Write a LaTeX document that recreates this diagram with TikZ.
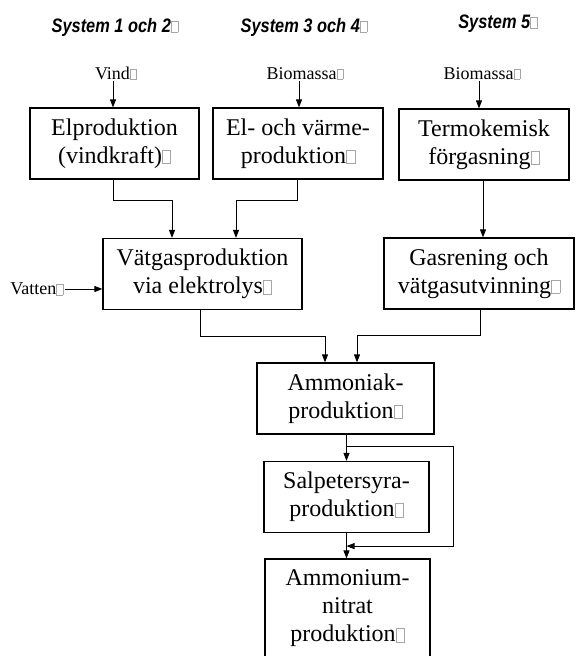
\documentclass[tikz,border=0pt]{standalone}
\usepackage{fontspec}
\setmainfont{Liberation Serif}
\newfontfamily\rubrikfont[FakeStretch=0.84]{Liberation Sans}
\usepackage{tikz}
\usetikzlibrary{arrows.meta}

% small grey box that follows each text
\newcommand{\mk}{{\color{black!35}\setlength{\fboxsep}{0pt}\setlength{\fboxrule}{0.5pt}\fbox{\rule{0pt}{0.55em}\rule{0.33em}{0pt}}}}

\tikzset{
  process/.style={draw, line width=1.2pt, align=center, font=\fontsize{24}{28}\selectfont, minimum height=71pt, inner sep=2pt},
  input/.style={font=\fontsize{18}{20}\selectfont, inner sep=1.5pt},
  rubrik/.style={font=\rubrikfont\fontsize{19.5}{21}\bfseries\itshape\selectfont, inner sep=0pt},
  flow/.style={line width=0.9pt, -{Triangle[length=8pt,width=6pt]}}
}

\begin{document}
\begin{tikzpicture}[x=1pt, y=-1pt]
  \clip (0,0) rectangle (576,656);

  % Headings
  \node[rubrik, anchor=base] (sys12) at (115,32) {System 1 och 2\mk};
  \node[rubrik, anchor=base] (sys34) at (304,32) {System 3 och 4\mk};
  \node[rubrik, anchor=base] (sys5) at (498,28) {System 5\mk};

  % Inputs
  \node[input, anchor=base] (vind) at (116,79) {Vind\mk};
  \node[input, anchor=base] (bio1) at (305,79) {Biomassa\mk};
  \node[input, anchor=base] (bio2) at (482,79) {Biomassa\mk};
  \node[input, anchor=east] (vatten) at (65,289) {Vatten\mk};

  % Process boxes
  \node[process, minimum width=169pt] (el) at (114.5,143.5) {Elproduktion\\(vindkraft)\mk};
  \node[process, minimum width=170pt] (elv) at (298,143.5) {El- och värme-\\produktion\mk};
  \node[process, minimum width=170pt] (term) at (484,144.5) {Termokemisk\\förgasning\mk};
  \node[process, minimum width=199pt] (elek) at (202.5,274) {Vätgasproduktion\\via elektrolys\mk};
  \node[process, minimum width=190pt] (gas) at (479,273.5) {Gasrening och\\vätgasutvinning\mk};
  \node[process, minimum width=177pt] (amm) at (345.5,398.5) {Ammoniak-\\produktion\mk};
  \node[process, minimum width=165pt] (salp) at (346.5,497) {Salpetersyra-\\produktion\mk};
  \node[process, minimum width=165pt, minimum height=99pt] (nitr) at (347.5,608.5) {Ammonium-\\nitrat\\produktion\mk};

  % Input arrows
  \draw[flow] ([xshift=-1.5pt]el.north |- vind.south) -- ([xshift=-1.5pt]el.north);
  \draw[flow] ([xshift=1pt]elv.north |- bio1.south) -- ([xshift=1pt]elv.north);
  \draw[flow] ([xshift=-5pt]term.north |- bio2.south) -- ([xshift=-5pt]term.north);
  \draw[flow] (vatten.east) -- (vatten.east -| elek.west);

  % Flows between boxes
  \draw[flow] ([xshift=-1.5pt]el.south) -- ++(0,21) -| ([xshift=-30.5pt]elek.north);
  \draw[flow] ([xshift=-1pt]elv.south) -- ++(0,21) -| ([xshift=33.5pt]elek.north);
  \draw[flow] ([xshift=-1pt]term.south) -- ([xshift=-1pt]term.south |- gas.north);
  \draw[flow] ([xshift=-2.5pt]elek.south) -- ++(0,26) -| ([xshift=-20.5pt]amm.north);
  \draw[flow] ([xshift=1.5pt]gas.south) -- ++(0,26) -| ([xshift=11.5pt]amm.north);
  \draw[flow] (salp.north |- amm.south) -- (salp.north);
  \draw[flow] ([yshift=-12pt]salp.north |- amm.south) -- ++(107,0) |- ([yshift=-13pt]salp.south);
  \draw[flow] (salp.south) -- (salp.south |- nitr.north);
\end{tikzpicture}
\end{document}
